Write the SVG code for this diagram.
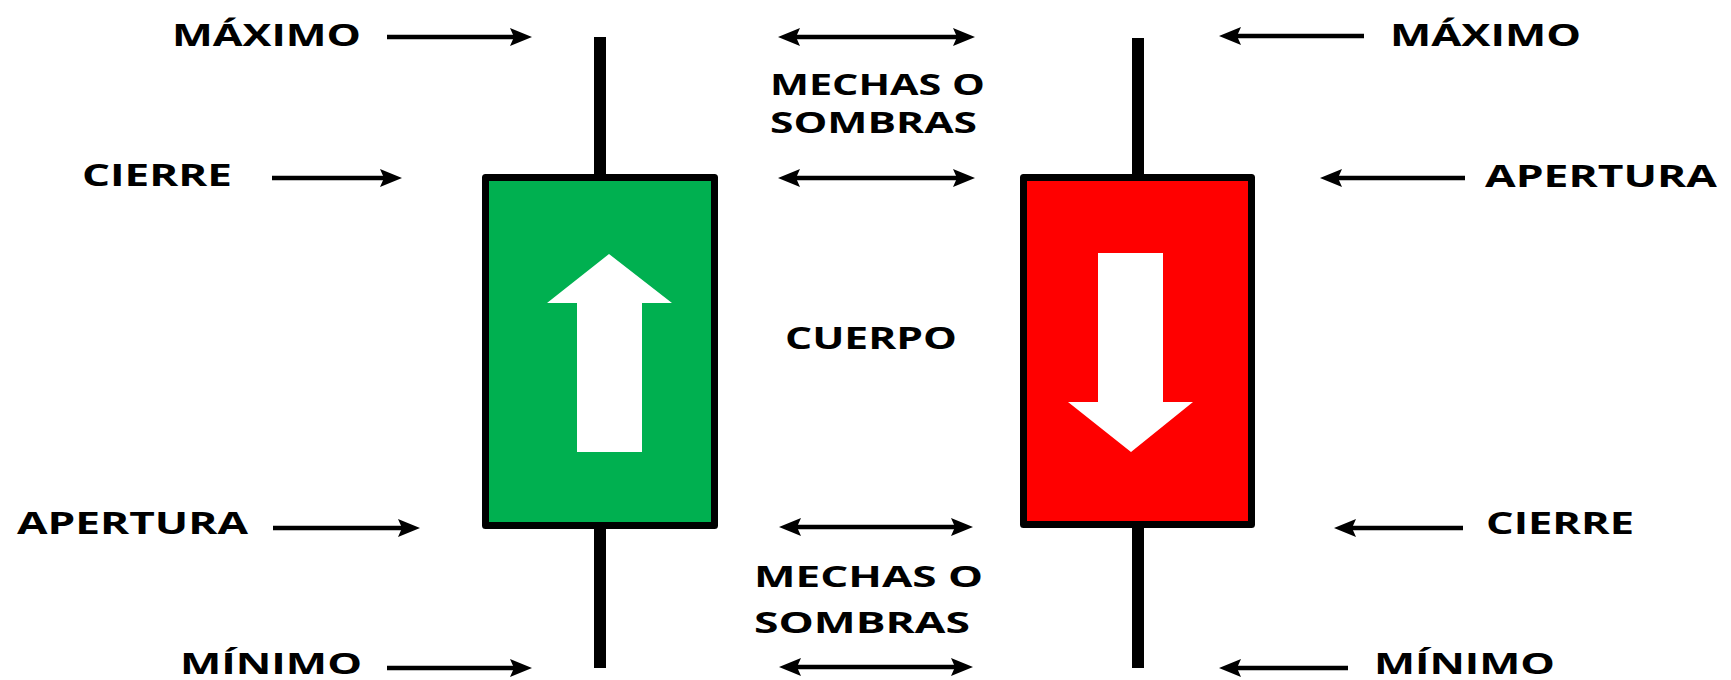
<svg xmlns="http://www.w3.org/2000/svg" width="1731" height="680" viewBox="0 0 1731 680">
<defs>
<style>
.lbl{font-family:"Open Sans","DejaVu Sans","Liberation Sans",sans-serif;font-weight:bold;font-size:31px;fill:#000}
.mid{font-size:29px}
.low{font-size:29px}
.conn{stroke:#000;stroke-width:4.5;fill:none}
.wick{fill:#000}
.body{stroke:#000;stroke-width:7;stroke-linejoin:round}
</style>
<marker id="ah" viewBox="0 -9 22 18" markerWidth="22" markerHeight="18" refX="10" refY="0" markerUnits="userSpaceOnUse" orient="auto-start-reverse">
<path d="M0,-9 L22,0 L0,9 L4,0 z" fill="#000"/>
</marker>
</defs>
<rect width="1731" height="680" fill="#fff"/>

<g id="candle-green">
<rect class="wick" x="594" y="37" width="12" height="631"/>
<rect class="body" x="485.5" y="177.5" width="229" height="348" fill="#00B050"/>
<polygon points="609,254 672,303 642,303 642,452 577,452 577,303 547,303" fill="#fff"/>
</g>

<g id="candle-red">
<rect class="wick" x="1132" y="38" width="12" height="630"/>
<rect class="body" x="1023.5" y="177.5" width="228" height="347" fill="#FF0000"/>
<polygon points="1098,253 1163,253 1163,402 1193,402 1131,452 1068,402 1098,402" fill="#fff"/>
</g>

<g id="labels-left">
<text class="lbl" x="172" y="46" textLength="189" lengthAdjust="spacingAndGlyphs">MÁXIMO</text>
<text class="lbl" x="82" y="186" textLength="150" lengthAdjust="spacingAndGlyphs">CIERRE</text>
<text class="lbl" x="17" y="534" textLength="231" lengthAdjust="spacingAndGlyphs">APERTURA</text>
<text class="lbl low" x="180" y="674" textLength="182" lengthAdjust="spacingAndGlyphs">MÍNIMO</text>
</g>

<g id="labels-middle">
<text class="lbl mid" x="770" y="95" textLength="215" lengthAdjust="spacingAndGlyphs">MECHAS O</text>
<text class="lbl mid" x="770" y="133" textLength="207" lengthAdjust="spacingAndGlyphs">SOMBRAS</text>
<text class="lbl" x="785" y="349" textLength="172" lengthAdjust="spacingAndGlyphs">CUERPO</text>
<text class="lbl mid" x="754" y="587" textLength="229" lengthAdjust="spacingAndGlyphs">MECHAS O</text>
<text class="lbl mid" x="754" y="633" textLength="216" lengthAdjust="spacingAndGlyphs">SOMBRAS</text>
</g>

<g id="labels-right">
<text class="lbl" x="1390" y="46" textLength="191" lengthAdjust="spacingAndGlyphs">MÁXIMO</text>
<text class="lbl" x="1485" y="187" textLength="232" lengthAdjust="spacingAndGlyphs">APERTURA</text>
<text class="lbl" x="1486" y="534" textLength="148" lengthAdjust="spacingAndGlyphs">CIERRE</text>
<text class="lbl low" x="1374" y="674" textLength="181" lengthAdjust="spacingAndGlyphs">MÍNIMO</text>
</g>

<g id="connectors">
<line class="conn" x1="387" y1="37" x2="520" y2="37" marker-end="url(#ah)"/>
<line class="conn" x1="272" y1="178" x2="390" y2="178" marker-end="url(#ah)"/>
<line class="conn" x1="273" y1="528" x2="408" y2="528" marker-end="url(#ah)"/>
<line class="conn" x1="387" y1="668" x2="520" y2="668" marker-end="url(#ah)"/>

<line class="conn" x1="1364" y1="36" x2="1231" y2="36" marker-end="url(#ah)"/>
<line class="conn" x1="1465" y1="178" x2="1332" y2="178" marker-end="url(#ah)"/>
<line class="conn" x1="1463" y1="528" x2="1346" y2="528" marker-end="url(#ah)"/>
<line class="conn" x1="1348" y1="668" x2="1231" y2="668" marker-end="url(#ah)"/>

<line class="conn" x1="790" y1="37" x2="963" y2="37" marker-start="url(#ah)" marker-end="url(#ah)"/>
<line class="conn" x1="790" y1="178" x2="963" y2="178" marker-start="url(#ah)" marker-end="url(#ah)"/>
<line class="conn" x1="791" y1="527" x2="961" y2="527" marker-start="url(#ah)" marker-end="url(#ah)"/>
<line class="conn" x1="791" y1="667" x2="961" y2="667" marker-start="url(#ah)" marker-end="url(#ah)"/>
</g>
</svg>
